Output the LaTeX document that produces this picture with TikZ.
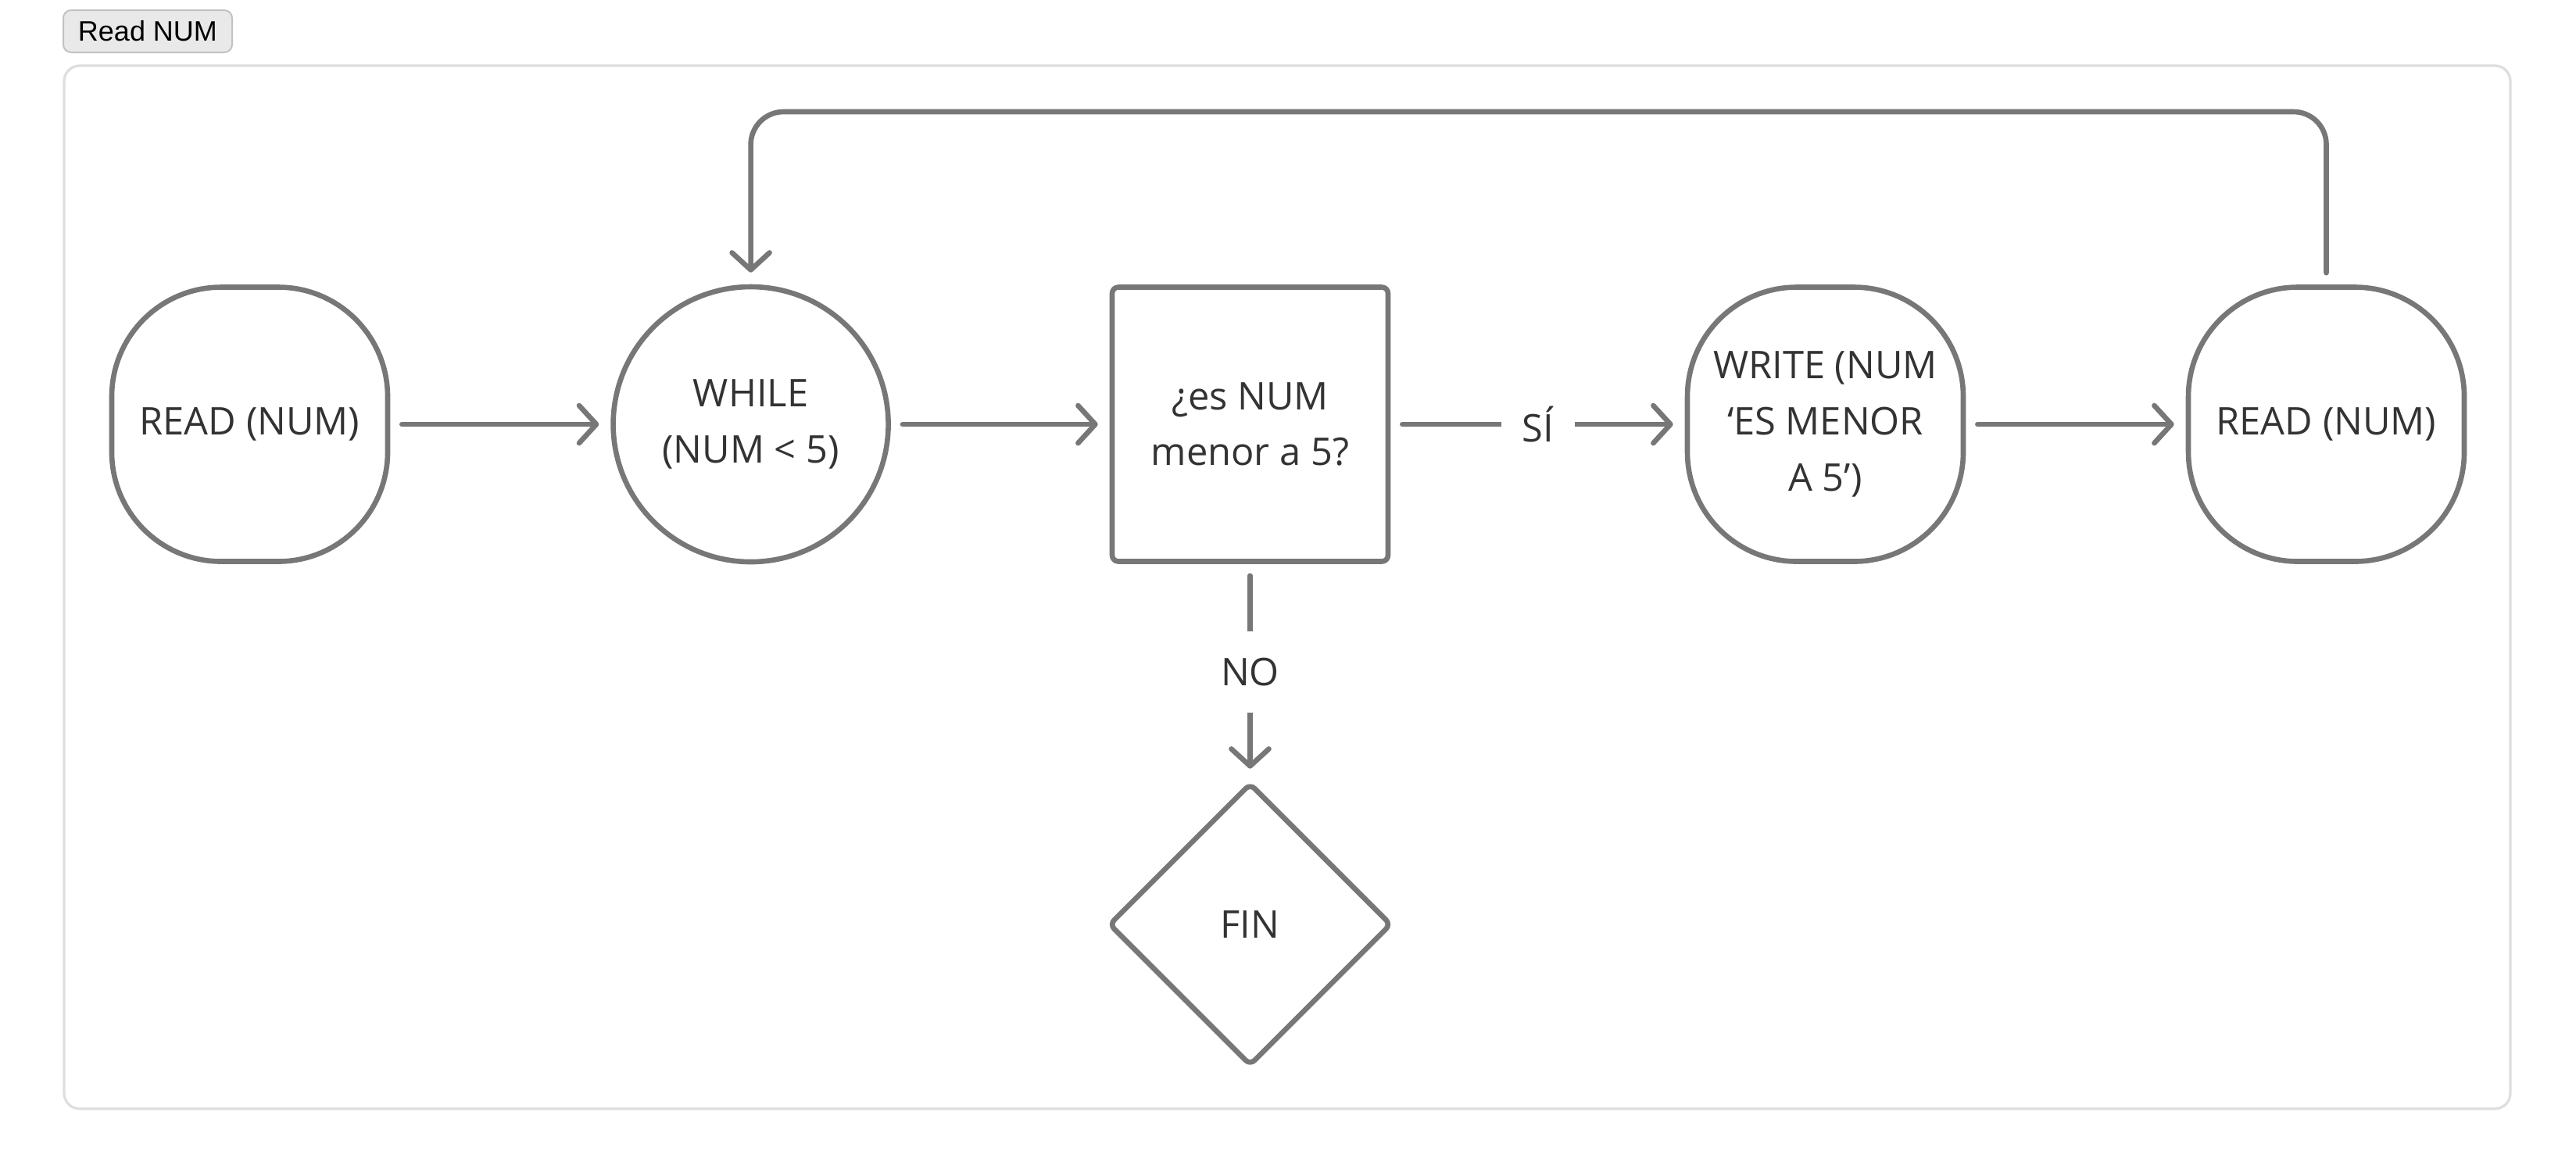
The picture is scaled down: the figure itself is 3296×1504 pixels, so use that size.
\documentclass[tikz,border=0pt]{standalone}
\usepackage{fontspec}
\setmainfont{Open Sans}
\newfontfamily\btnfont{Liberation Sans}
\usetikzlibrary{shapes.geometric,arrows.meta}
\definecolor{strokegrey}{HTML}{777777}
\definecolor{textgrey}{HTML}{333333}
\definecolor{framegrey}{HTML}{DEDEDE}
\definecolor{btnfill}{HTML}{E9E9E9}
\definecolor{btnborder}{HTML}{C2C2C2}
\tikzset{
  x=0.25pt, y=-0.25pt,
  base/.style={draw=strokegrey, line width=1.65pt, fill=white, text=textgrey,
    font=\fontsize{12.2}{17.9}\selectfont, align=center, inner sep=0pt},
  roundbox/.style={base, rectangle, rounded corners=35pt, minimum width=88.25pt, minimum height=87.75pt},
  circbox/.style={base, circle, minimum size=88pt},
  sqbox/.style={base, rectangle, rounded corners=2pt, minimum width=88.25pt, minimum height=87.75pt},
  finbox/.style={base, diamond, rounded corners=2pt, minimum width=90.5pt, minimum height=90.5pt},
  conn/.style={draw=strokegrey, line width=1.65pt, line cap=round, line join=round,
    -{Straight Barb[length=5.5pt, width=12pt, line cap=round, line join=round]},
    shorten <=3.75pt, shorten >=3.75pt},
  lbl/.style={fill=white, text=textgrey, font=\fontsize{12.2}{14}\selectfont, inner sep=0pt,
    minimum width=23.5pt, minimum height=26pt},
}
\begin{document}
\begin{tikzpicture}
\useasboundingbox[fill=white] (0,0) rectangle (3296,1504);
% button
\node[draw=btnborder, fill=btnfill, line width=0.5pt, rounded corners=2.5pt,
  minimum width=54pt, minimum height=13.5pt, inner sep=0pt,
  font=\btnfont\fontsize{9}{10}\selectfont, text=black] (btn) at (189,40) {Read NUM};
% frame
\node[draw=framegrey, line width=0.8pt, rounded corners=5pt, minimum width=782.5pt,
  minimum height=333.75pt, inner sep=0pt] (frame) at (1647,751.5) {};
% nodes
\node[roundbox] (read1) at (319.5,543) {READ (NUM)};
\node[circbox] (while) at (960.6,543) {WHILE\\(NUM < 5)};
\node[sqbox] (dec) at (1599.5,543) {¿es NUM\\menor a 5?};
\node[roundbox] (write) at (2335.5,543) {WRITE (NUM\\‘ES MENOR\\A 5’)};
\node[roundbox] (read2) at (2976.5,543) {READ (NUM)};
\node[finbox] (fin) at (1599.5,1183) {FIN};
% connectors
\draw[conn] (read1) -- (while);
\draw[conn] (while) -- (dec);
\draw[conn] (dec) -- node[lbl] (si) {SÍ} (write);
\draw[conn] (write) -- (read2);
\draw[conn] (dec) -- node[lbl] (no) {NO} (fin);
\coordinate (loopR) at (2976.5,143);
\coordinate (loopL) at (960.6,143);
\draw[conn, rounded corners=10.5pt] (read2.north) -- (loopR) -- (loopL) -- (while.north);
\end{tikzpicture}
\end{document}
